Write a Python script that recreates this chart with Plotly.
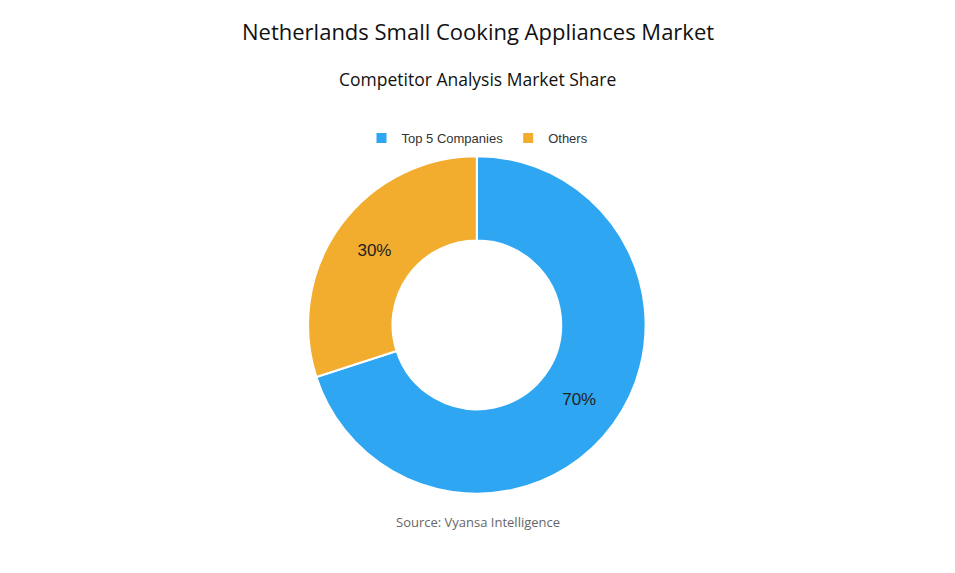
import plotly.graph_objects as go

labels = ["Top 5 Companies", "Others"]
values = [70, 30]
colors = ["#2EA6F2", "#F2AC2E"]

W, H = 955, 573
DX, DY = -8 / W, 8 / H  # compensate page offset

fig = go.Figure(go.Pie(
    labels=labels, values=values, hole=0.5, sort=False, direction="clockwise",
    rotation=0, marker=dict(colors=colors, line=dict(color="white", width=2)),
    textinfo="percent", textposition="inside", insidetextorientation="horizontal",
    textfont=dict(family="Liberation Sans, Arial", size=17, color="#222222"),
    domain=dict(x=[0.3226 + DX, 0.676 + DX], y=[0.138 + DY, 0.728 + DY]),
))
fig.update_layout(
    width=W, height=H, margin=dict(l=0, r=0, t=0, b=0),
    paper_bgcolor="white", plot_bgcolor="white",
    showlegend=True,
    legend=dict(orientation="h", x=0.5 + DX, xanchor="center", y=1 - 138 / H + DY, yanchor="middle",
                font=dict(family="Liberation Sans, Arial", size=13, color="#333333")),
    annotations=[
        dict(text="Netherlands Small Cooking Appliances Market", x=0.5 + DX, y=1 - 31 / H + DY,
             xref="paper", yref="paper", yanchor="middle",
             showarrow=False, font=dict(family="Open Sans", size=22, color="#111111", weight=500)),
        dict(text="Competitor Analysis Market Share", x=0.5 + DX, y=1 - 79 / H + DY,
             xref="paper", yref="paper", yanchor="middle",
             showarrow=False, font=dict(family="Open Sans", size=17.5, color="#111111", weight=500)),
        dict(text="Source: Vyansa Intelligence", x=0.5 + DX, y=1 - 522 / H + DY,
             xref="paper", yref="paper", yanchor="middle",
             showarrow=False, font=dict(family="Open Sans", size=13, color="#666666")),
    ],
)
fig.write_html("out.html")
